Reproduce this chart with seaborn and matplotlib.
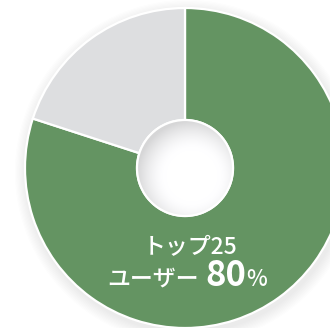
import numpy as np
import matplotlib
matplotlib.use("Agg")
import matplotlib.pyplot as plt
from matplotlib.patches import Circle
import seaborn as sns

# ---- data ----
labels = ["トップ25ユーザー", "その他"]
shares = [80, 20]
colors = ["#649462", "#DDDEE0"]
title_line1 = "トップ25"
title_line2 = "ユーザー"
share_text = "80"
pct_text = "%"

sns.set_theme(style="white")
plt.rcParams['font.family'] = ['Noto Sans CJK JP', 'DejaVu Sans']

W, H = 330, 328
fig = plt.figure(figsize=(W / 100, H / 100), dpi=100)
ax = fig.add_axes([0, 0, 1, 1])
ax.set_xlim(0, W)
ax.set_ylim(0, H)
ax.set_aspect("equal")
ax.axis("off")

cx, cy = 185, H - 168
R, r = 160, 48

# soft drop shadow
for k in range(10, 0, -1):
    ax.add_patch(Circle((cx + 2, cy - 4), R + k * 1.2, color="#5a5a70",
                        alpha=0.012, lw=0, zorder=0))

wedges, _ = ax.pie(shares, colors=colors, startangle=90, counterclock=False,
                   center=(cx, cy), radius=R,
                   wedgeprops=dict(width=R - r, edgecolor="white", linewidth=1.6))
for w in wedges:
    w.set_zorder(2)
ax.set_xlim(0, W)
ax.set_ylim(0, H)
ax.set_aspect("equal")

# hole with inner shading
n = 200
xs = np.linspace(cx - r, cx + r, n)
ys = np.linspace(cy - r, cy + r, n)
X, Y = np.meshgrid(xs, ys)
d = np.hypot(X - (cx + 7), Y - (cy - 8)) / r
t = np.clip((d - 0.55) / 0.6, 0, 1) ** 1.6
val = 1 - 0.16 * t
img = np.dstack([val, val, val * 1.005])
img = np.clip(img, 0, 1)
im = ax.imshow(img, extent=(cx - r, cx + r, cy - r, cy + r), origin="lower",
               zorder=3, interpolation="bilinear")
clip = Circle((cx, cy), r, transform=ax.transData)
im.set_clip_path(clip)
ax.add_patch(Circle((cx, cy), r, fill=False, edgecolor="white", lw=1.6, zorder=4))

ax.set_xlim(0, W)
ax.set_ylim(0, H)

# center text
ax.text(190, 74, title_line1, color="white", fontsize=16.5, ha="center",
        va="baseline", fontweight="medium", zorder=5)
ax.text(199, 42, title_line2, color="white", fontsize=16.5, ha="right",
        va="baseline", fontweight="medium", zorder=5)
ax.text(205, 42, share_text, color="white", fontsize=25, fontweight="bold",
        ha="left", va="baseline", zorder=5)
ax.text(246, 42, pct_text, color="white", fontsize=16, ha="left",
        fontweight="medium", va="baseline", zorder=5)

fig.savefig("out.png", dpi=100, facecolor="white")
